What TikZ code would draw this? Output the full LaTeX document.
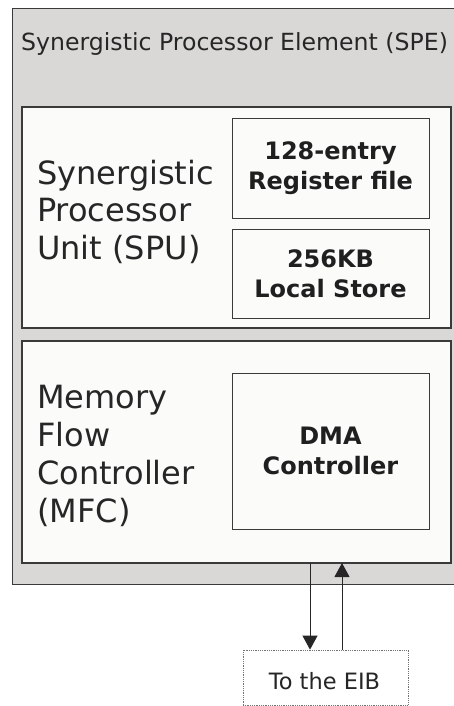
\documentclass[tikz,border=0pt]{standalone}
\usepackage{fontspec}
\setmainfont{DejaVu Sans}
\usetikzlibrary{arrows.meta}
\definecolor{speGray}{HTML}{D9D8D6}
\definecolor{boxWhite}{HTML}{FBFBFA}
\definecolor{edgeDark}{HTML}{3A3A3A}
\tikzset{
  unitbox/.style={draw=edgeDark, line width=1.2pt, fill=boxWhite, inner sep=0pt, outer sep=0pt},
  partbox/.style={draw=edgeDark, line width=1pt, fill=boxWhite, inner sep=0pt, outer sep=0pt, align=center,
    font=\fontsize{24}{30}\selectfont\bfseries, text=black!88},
  biglabel/.style={anchor=west, align=left, inner sep=0pt, text=black!85},
  flow/.style={draw=black!85, line width=1pt, -{Triangle[length=14pt,width=15pt]}}
}
\begin{document}
\begin{tikzpicture}[x=1pt,y=-1pt]
\useasboundingbox (0,0) rectangle (454,706);
\fill[white] (0,0) rectangle (454,706);
\clip (0,0) rectangle (454,706);

% processor element frame (runs past the right edge)
\node[draw=edgeDark, line width=1.2pt, fill=speGray, minimum width=470pt, minimum height=576pt, inner sep=0pt, anchor=north west]
  (spe) at (12,8) {};
\node[anchor=base west, inner sep=0pt, font=\fontsize{23.6}{28}\selectfont, text=black!85]
  (spetitle) at (21,51) {Synergistic Processor Element (SPE)};

% SPU
\node[unitbox, minimum width=429pt, minimum height=221pt] (spu) at (236.5,217.5) {};
\node[biglabel, font=\fontsize{32}{37.5}\selectfont] (spulabel) at (37,211.5) {Synergistic\\Processor\\Unit (SPU)};
\node[partbox, minimum width=197pt, minimum height=99pt] (regs) at (330.5,168.5) {128-entry\\Register file};
\node[partbox, minimum width=197pt, minimum height=89pt] (ls) at (330.5,273.5) {256KB\\Local Store};

% MFC
\node[unitbox, minimum width=429pt, minimum height=222pt] (mfc) at (236.5,452) {};
\node[biglabel, font=\fontsize{32}{38}\selectfont] (mfclabel) at (37,456) {Memory\\Flow\\Controller\\(MFC)};
\node[partbox, minimum width=197pt, minimum height=156pt] (dma) at (330.5,451) {DMA\\Controller};

% element interconnect bus
\node[draw=black!55, densely dotted, line width=0.8pt, fill=white, minimum width=165pt, minimum height=55pt,
  inner sep=0pt] (eib) at (325.5,677.5) {};
\node[inner sep=0pt, font=\fontsize{22.5}{26}\selectfont, text=black!85, anchor=base] (eibtext) at (324.5,689) {To the EIB};

\draw[flow] (mfc.south -| 310,0) -- (eib.north -| 310,0);
\draw[flow] (eib.north -| 342,0) -- (mfc.south -| 342,0);
\end{tikzpicture}
\end{document}
